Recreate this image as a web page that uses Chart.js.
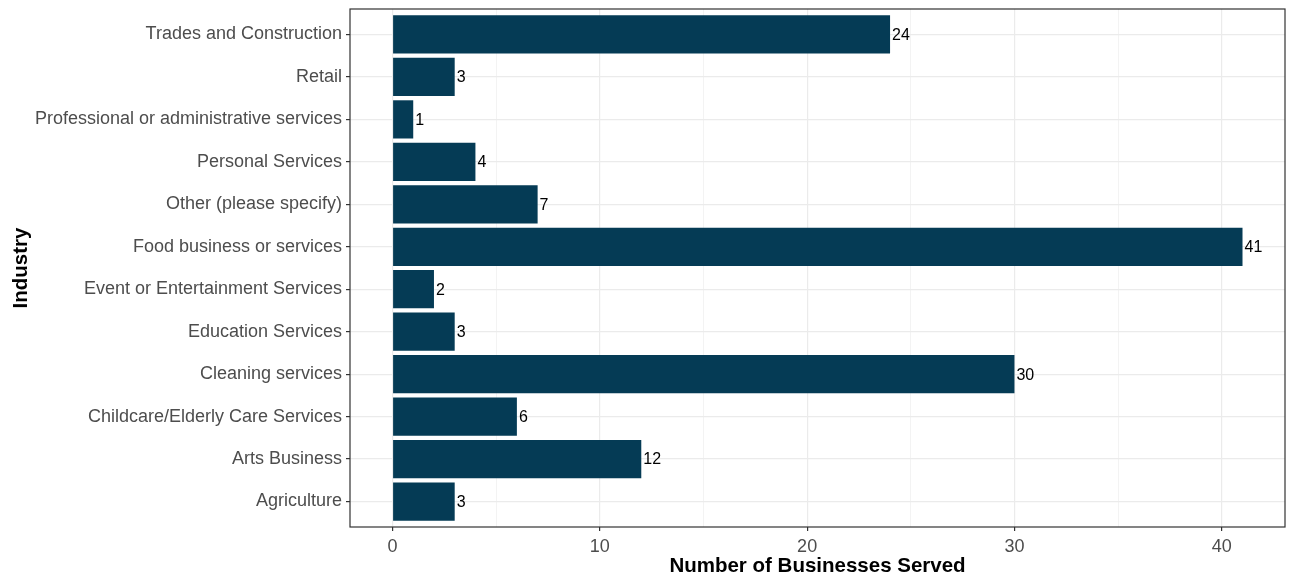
<!DOCTYPE html>
<html>
<head>
<meta charset="utf-8">
<script src="https://cdn.jsdelivr.net/npm/chart.js@4"></script>
<style>
  html, body { margin: 0; padding: 0; background: #ffffff; }
  #wrap { width: 1290px; height: 577px; position: relative; }
</style>
</head>
<body>
<div id="wrap"><canvas id="c"></canvas></div>
<script>
// Categories (bottom to top, as in the reference)
const categories = [
  "Agriculture",
  "Arts Business",
  "Childcare/Elderly Care Services",
  "Cleaning services",
  "Education Services",
  "Event or Entertainment Services",
  "Food business or services",
  "Other (please specify)",
  "Personal Services",
  "Professional or administrative services",
  "Retail",
  "Trades and Construction"
];
const businessesServed = [3, 12, 6, 30, 3, 2, 41, 7, 4, 1, 3, 24];
const xTickValues = [0, 5, 10, 15, 20, 25, 30, 35, 40];
const xLabelValues = [0, 10, 20, 30, 40];
const xAxisTitle = "Number of Businesses Served";
const yAxisTitle = "Industry";

const positions = categories.map((_, i) => i + 1);
const points = businessesServed.map((v, i) => ({ x: v, y: positions[i] }));

const FONT = "'Liberation Sans', Arial, sans-serif";

const panelBorder = {
  id: 'panelBorder',
  afterDatasetsDraw(chart) {
    const { ctx, chartArea: a } = chart;
    ctx.save();
    ctx.strokeStyle = '#333333';
    ctx.lineWidth = 1.2;
    ctx.strokeRect(a.left, a.top, a.right - a.left, a.bottom - a.top);
    ctx.restore();
  }
};

const valueLabels = {
  id: 'valueLabels',
  afterDatasetsDraw(chart) {
    const { ctx } = chart;
    const meta = chart.getDatasetMeta(0);
    ctx.save();
    ctx.font = '16px ' + FONT;
    ctx.fillStyle = '#000000';
    ctx.textAlign = 'left';
    ctx.textBaseline = 'middle';
    meta.data.forEach((bar, i) => {
      ctx.fillText(String(businessesServed[i]), bar.x + 2, bar.y + 1);
    });
    ctx.restore();
  }
};

new Chart(document.getElementById('c'), {
  type: 'bar',
  data: {
    datasets: [{
      data: points,
      backgroundColor: '#053B55',
      borderWidth: 0,
      barPercentage: 0.9,
      categoryPercentage: 1.0
    }]
  },
  options: {
    indexAxis: 'y',
    responsive: true,
    maintainAspectRatio: false,
    animation: false,
    layout: { padding: { left: 0, top: 9, right: 5, bottom: 0 } },
    plugins: {
      legend: { display: false },
      tooltip: { enabled: false }
    },
    scales: {
      x: {
        type: 'linear',
        position: 'bottom',
        min: -2.05,
        max: 43.05,
        afterBuildTicks(scale) { scale.ticks = xTickValues.map(v => ({ value: v })); },
        afterFit(scale) { scale.height = 50; scale.paddingLeft = 0; scale.paddingRight = 0; },
        border: { display: false },
        grid: {
          color: '#EBEBEB',
          lineWidth: (c) => (c.tick && xLabelValues.includes(c.tick.value)) ? 1.2 : 0.6,
          tickColor: (c) => (c.tick && xLabelValues.includes(c.tick.value)) ? '#333333' : 'rgba(0,0,0,0)',
          tickLength: 4,
          drawTicks: true
        },
        ticks: {
          autoSkip: false,
          maxRotation: 0,
          padding: 5,
          color: '#4D4D4D',
          font: { family: FONT, size: 18 },
          callback: (v) => xLabelValues.includes(v) ? String(v) : ''
        },
        title: {
          display: true,
          text: xAxisTitle,
          color: '#000000',
          font: { family: FONT, size: 20.5, weight: 'bold' },
          padding: { top: 0, bottom: -2 }
        }
      },
      y: {
        type: 'linear',
        position: 'left',
        offset: false,
        min: 0.4,
        max: 12.6,
        afterBuildTicks(scale) { scale.ticks = positions.map(v => ({ value: v })); },
        afterFit(scale) { scale.width = 350; scale.paddingTop = 0; scale.paddingBottom = 0; },
        border: { display: false },
        grid: {
          offset: false,
          color: '#EBEBEB',
          lineWidth: 1.2,
          tickColor: '#333333',
          tickLength: 4,
          drawTicks: true
        },
        ticks: {
          autoSkip: false,
          padding: 4,
          color: '#4D4D4D',
          font: { family: FONT, size: 18 },
          callback: (v) => categories[Math.round(v) - 1] || ''
        },
        title: {
          display: true,
          text: yAxisTitle,
          color: '#000000',
          font: { family: FONT, size: 20.5, weight: 'bold' },
          padding: { top: 9, bottom: 0 }
        }
      }
    }
  },
  plugins: [panelBorder, valueLabels]
});
</script>
</body>
</html>
